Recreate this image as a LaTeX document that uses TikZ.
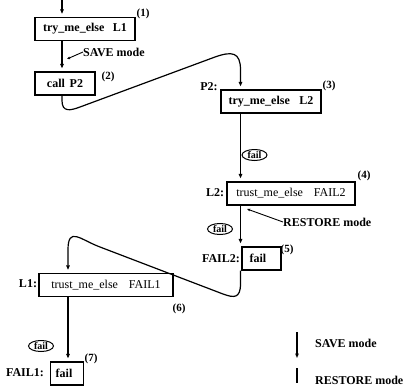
\documentclass[tikz,border=0pt]{standalone}
\usepackage{fontspec}
\setmainfont{Liberation Serif}
\usetikzlibrary{shapes.geometric,arrows.meta,calc}
\begin{document}
\begin{tikzpicture}[x=1pt,y=-1pt,
  box/.style={draw,line width=1.2pt,inner sep=0pt,minimum height=23pt,font=\fontsize{12}{12}\selectfont\bfseries},
  boxn/.style={box,font=\fontsize{12}{12}\selectfont},
  lbl/.style={inner sep=0pt,font=\fontsize{12}{12}\selectfont\bfseries},
  num/.style={inner sep=0pt,font=\fontsize{11}{11}\selectfont\bfseries},
  failnode/.style={ellipse,draw,line width=1pt,inner sep=0.2pt,minimum width=25pt,minimum height=11pt,font=\fontsize{10}{10}\selectfont\bfseries},
  conn/.style={line width=1.2pt},
  arr/.style={conn,-{Triangle[length=4.5pt,width=3.5pt]},shorten >=3pt},
  ptr/.style={line width=0.9pt,-{Triangle[length=3pt,width=2.5pt]}},
]
\useasboundingbox (0,0) rectangle (405,389);
\coordinate (colA) at (62,0);
\coordinate (colB) at (240.5,0);
\coordinate (colC) at (68,0);

% boxes
\node[box,minimum width=100pt] (b1) at (85,29) {try\_me\_else\hspace{0.7em}L1};
\node[box,minimum width=60pt] (b2) at (65,83.5) {call\hspace{0.4em}P2};
\node[box,minimum width=100pt] (b3) at (271,101.5) {try\_me\_else\hspace{0.8em}L2};
\node[boxn,minimum width=128pt] (b4) at (291,193.5) {trust\_me\_else\hspace{0.9em}FAIL2};
\node[box,minimum width=39pt] (b5) at (261.5,258.5) {fail\hspace{0.6em}\mbox{}};
\node[boxn,minimum width=134pt] (b6) at (106,285) {trust\_me\_else\hspace{0.9em}FAIL1};
\node[box,minimum width=33pt] (b7) at (67,373.5) {fail\hspace{0.5em}\mbox{}};

% labels
\node[lbl] (p2) at (209,87) {P2:};
\node[lbl] (l2) at (215,193) {L2:};
\node[lbl] (f2) at (221,259) {FAIL2:};
\node[lbl] (l1) at (28,284) {L1:};
\node[lbl] (f1) at (25,373) {FAIL1:};

\node[num] (n1) at (143,14) {(1)};
\node[num] (n2) at (108,77) {(2)};
\node[num] (n3) at (329,86) {(3)};
\node[num] (n4) at (364,176) {(4)};
\node[num] (n5) at (287,250) {(5)};
\node[num] (n6) at (179,309) {(6)};
\node[num] (n7) at (91,359) {(7)};

\node[failnode] (e1) at (254.5,155) {fail};
\node[failnode] (e2) at (220,229) {fail};
\node[failnode] (e3) at (41,346) {fail};

\node[lbl,anchor=west] (save) at (83,52) {SAVE mode};
\node[lbl,anchor=west] (rest) at (283,222) {RESTORE mode};
\coordinate (saveTip) at (67,59);
\coordinate (restTip) at (247,209);
\draw[ptr] (save.west) -- (saveTip);
\draw[ptr] (rest.west) -- (restTip);

% connectors
\draw[arr] (colA) -- (b1.north -| colA);
\draw[arr] (b1.south -| colA) -- (b2.north -| colA);
\draw[arr] (b2.south -| colA) -- ++(0,5) .. controls +(0,12) and (70.6,110.5) .. (80,107)
   -- (215,57) .. controls (232,51) and (240.5,52) .. (240.5,70) -- (b3.north -| colB);
\draw[arr] (b3.south -| colB) -- (b4.north -| colB);
\draw[arr] (b4.south -| colB) -- (b5.north -| colB);
\draw[arr] (b5.south -| colB) -- ++(0,13) .. controls +(0,15) and (234,298) .. (223,294)
   -- (100,247) .. controls (80,239.5) and (68,226) .. (68,250) -- (b6.north -| colC);
\draw[arr] (b6.south -| colC) -- (b7.north -| colC);

% legend
\coordinate (lg1) at (297,332);
\coordinate (lg2) at (297,358);
\coordinate (lg3) at (297,368);
\coordinate (lg4) at (297,383);
\draw[conn,-{Triangle[length=4.5pt,width=3.5pt]}] (lg1) -- (lg2);
\draw[conn] (lg3) -- (lg4);
\node[lbl,anchor=west] (ls) at (315,343) {SAVE mode};
\node[lbl,anchor=west] (lr) at (315,380) {RESTORE mode};
\end{tikzpicture}
\end{document}
